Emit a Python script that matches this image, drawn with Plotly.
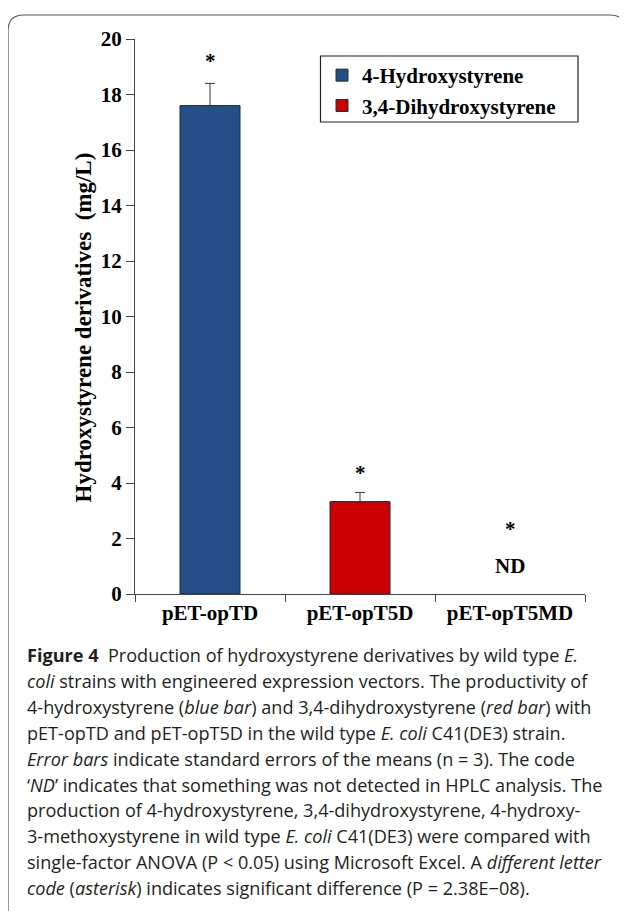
import plotly.graph_objects as go

# ---- data ----
categories = ["pET-opTD", "pET-opT5D", "pET-opT5MD"]
series_names = ["4-Hydroxystyrene", "3,4-Dihydroxystyrene"]
hydroxy_values = [17.6, None, None]
hydroxy_err = [0.8, 0, 0]
dihydroxy_values = [None, 3.33, None]
dihydroxy_err = [0, 0.33, 0]
asterisk_y = [19.2, 4.35, 2.35]
nd_label_y = 1.0
y_ticks = [0, 2, 4, 6, 8, 10, 12, 14, 16, 18, 20]

caption_lines = [
    "<b>Figure 4</b>  Production of hydroxystyrene derivatives by wild type <i>E.</i>",
    "<i>coli</i> strains with engineered expression vectors. The productivity of",
    "4-hydroxystyrene (<i>blue bar</i>) and 3,4-dihydroxystyrene (<i>red bar</i>) with",
    "pET-opTD and pET-opT5D in the wild type <i>E. coli</i> C41(DE3) strain.",
    "<i>Error bars</i> indicate standard errors of the means (n = 3). The code",
    "‘<i>ND</i>’ indicates that something was not detected in HPLC analysis. The",
    "production of 4-hydroxystyrene, 3,4-dihydroxystyrene, 4-hydroxy-",
    "3-methoxystyrene in wild type <i>E. coli</i> C41(DE3) were compared with",
    "single-factor ANOVA (P < 0.05) using Microsoft Excel. A <i>different letter</i>",
    "<i>code</i> (<i>asterisk</i>) indicates significant difference (P = 2.38E−08).",
]

# ---- layout geometry (pixels, in page coordinates; page has 8px body margin) ----
OFF = 8
W, H = 627 - OFF, 911 - OFF
L, R, T, B = 135 - OFF, 585 - OFF, 39 - OFF, 594 - OFF


def px(x):
    return (x - OFF - L) / (R - L)


def py(y):
    return (B - (y - OFF)) / (B - T)


serif = "Liberation Serif, Times New Roman, serif"
sans = "Open Sans, sans-serif"
axis_grey = "#444444"

fig = go.Figure()
fig.add_trace(go.Bar(
    x=categories, y=hydroxy_values, name=series_names[0],
    marker=dict(color="#234E86", line=dict(color="#1a2a40", width=1)),
    width=0.4,
    error_y=dict(type="data", symmetric=False, array=hydroxy_err,
                 arrayminus=[0, 0, 0], color="#333333", thickness=1, width=5),
    legendgroup="a",
))
fig.add_trace(go.Bar(
    x=categories, y=dihydroxy_values, name=series_names[1],
    marker=dict(color="#CC0000", line=dict(color="#1a2a40", width=1)),
    width=0.4,
    error_y=dict(type="data", symmetric=False, array=dihydroxy_err,
                 arrayminus=[0, 0, 0], color="#333333", thickness=1, width=5),
    legendgroup="b",
))

bold_serif = dict(family=serif, size=21, color="black", weight="bold")

annotations = []
for c, ay in zip(categories, asterisk_y):
    annotations.append(dict(x=c, y=ay, xref="x", yref="y", text="*",
                            showarrow=False, font=bold_serif))
annotations.append(dict(x=categories[2], y=nd_label_y, xref="x", yref="y", text="ND",
                        showarrow=False, font=bold_serif))
annotations.append(dict(x=px(68), y=py(328), xref="paper", yref="paper",
                        text="Hydroxystyrene derivatives  (mg/L)", textangle=-90,
                        showarrow=False,
                        font=dict(family=serif, size=23, color="black", weight="bold")))
for i, line in enumerate(caption_lines):
    annotations.append(dict(x=px(25), y=py(655 + i * 25.9), xref="paper", yref="paper",
                            text=line, showarrow=False, xanchor="left", yanchor="middle",
                            font=dict(family=sans, size=18.1, color="#231f20")))

# outer rounded border + legend frame
r = 16
path = (f"M {px(8)},{py(920)} L {px(8)},{py(15 + r)} "
        f"Q {px(8)},{py(15)} {px(8 + r)},{py(15)} "
        f"L {px(626 - r)},{py(15)} Q {px(626)},{py(15)} {px(626)},{py(15 + r)}")
shapes = [
    dict(type="path", path=path, xref="paper", yref="paper",
         line=dict(color="#555555", width=1.2)),
    dict(type="rect", xref="paper", yref="paper",
         x0=px(320.5), x1=px(578), y0=py(56), y1=py(122),
         line=dict(color="#222222", width=1.2), fillcolor="rgba(0,0,0,0)"),
]

fig.update_layout(
    width=W, height=H,
    margin=dict(l=L, r=W - R, t=T, b=H - B, autoexpand=False),
    paper_bgcolor="white", plot_bgcolor="white",
    barmode="overlay",
    showlegend=True,
    legend=dict(x=px(322), y=py(55), xanchor="left", yanchor="top",
                borderwidth=0, bgcolor="rgba(0,0,0,0)",
                font=dict(family=serif, size=21, color="black", weight="bold"),
                tracegroupgap=2, itemwidth=30,
                traceorder="normal"),
    xaxis=dict(type="category", categoryorder="array", categoryarray=categories,
               range=[-0.5, 2.5], showline=True, linecolor=axis_grey, linewidth=1,
               ticks="outside", tickson="boundaries", ticklen=7, tickcolor=axis_grey,
               tickfont=dict(family=serif, size=21, color="black", weight="bold"),
               showgrid=False, fixedrange=True, automargin=False),
    yaxis=dict(range=[0, 20], tickvals=y_ticks, showline=True, linecolor=axis_grey,
               linewidth=1, ticks="outside", ticklen=8, tickcolor=axis_grey,
               tickfont=dict(family=serif, size=21, color="black", weight="bold"),
               showgrid=False, zeroline=False, fixedrange=True, automargin=False),
    annotations=annotations,
    shapes=shapes,
)

fig.write_html("out.html")
